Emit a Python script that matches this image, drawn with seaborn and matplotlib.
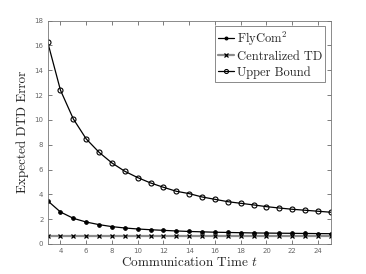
import matplotlib
matplotlib.use("Agg")
import matplotlib.pyplot as plt
import seaborn as sns
import pandas as pd

t = list(range(3, 26))
flycom = [3.49, 2.58, 2.07, 1.77, 1.56, 1.40, 1.29, 1.21, 1.15, 1.10, 1.05, 1.01,
          0.98, 0.95, 0.93, 0.91, 0.89, 0.88, 0.87, 0.86, 0.85, 0.84, 0.83]
centralized = [0.67, 0.67, 0.67, 0.67, 0.67, 0.67, 0.67, 0.67, 0.67, 0.67, 0.67, 0.67,
               0.67, 0.67, 0.67, 0.67, 0.67, 0.67, 0.67, 0.67, 0.67, 0.67, 0.67]
upper = [16.3, 12.4, 10.08, 8.47, 7.39, 6.53, 5.86, 5.35, 4.92, 4.57, 4.25, 4.06,
         3.79, 3.60, 3.41, 3.28, 3.15, 3.01, 2.90, 2.80, 2.72, 2.64, 2.56]
xticks = [4, 6, 8, 10, 12, 14, 16, 18, 20, 22, 24]
yticks = [0, 2, 4, 6, 8, 10, 12, 14, 16, 18]

sns.set_style("white")
plt.rcParams['mathtext.fontset'] = 'cm'
plt.rcParams['axes.unicode_minus'] = False

df = pd.DataFrame({"t": t, "FlyCom": flycom, "Central": centralized, "Upper": upper})

fig = plt.figure(figsize=(3.66, 2.74), dpi=100)
ax = fig.add_axes([0.130, 0.1095, 0.774, 0.815])

sns.lineplot(data=df, x="t", y="FlyCom", ax=ax, color="black", lw=0.9,
             marker="o", markersize=2.6, markeredgecolor="black", markerfacecolor="black",
             label=r"FlyCom$^2$")
sns.lineplot(data=df, x="t", y="Central", ax=ax, color="#8c8c8c", lw=1.6,
             marker="x", markersize=2.8, markeredgecolor="black", markeredgewidth=0.9,
             label="Centralized TD")
sns.lineplot(data=df, x="t", y="Upper", ax=ax, color="black", lw=0.9,
             marker="o", markersize=3.6, markeredgecolor="black", markerfacecolor="none",
             markeredgewidth=0.8, label="Upper Bound")

ax.set_xlim(3, 25)
ax.set_ylim(0, 18)
ax.set_xticks(xticks)
ax.set_yticks(yticks)
ax.tick_params(direction="in", length=3, width=0.6, labelsize=5, colors="#666666",
               top=True, right=True, bottom=True, left=True, pad=3)
for s in ax.spines.values():
    s.set_color("#777777")
    s.set_linewidth(0.6)

ax.set_xlabel(r"Communication Time $t$", family="cmr10", fontsize=9.5, labelpad=1)
ax.set_ylabel("Expected DTD Error", family="cmr10", fontsize=9.5, labelpad=4)

leg = ax.legend(loc="upper right", prop={"family": "cmr10", "size": 9},
                frameon=True, fancybox=False, borderpad=0.25, labelspacing=0.25,
                handlelength=1.3, handletextpad=0.2, borderaxespad=0.45,
                markerscale=0.8)
leg.get_frame().set_edgecolor("#555555")
leg.get_frame().set_linewidth(0.6)

fig.savefig("out.png", dpi=100)
